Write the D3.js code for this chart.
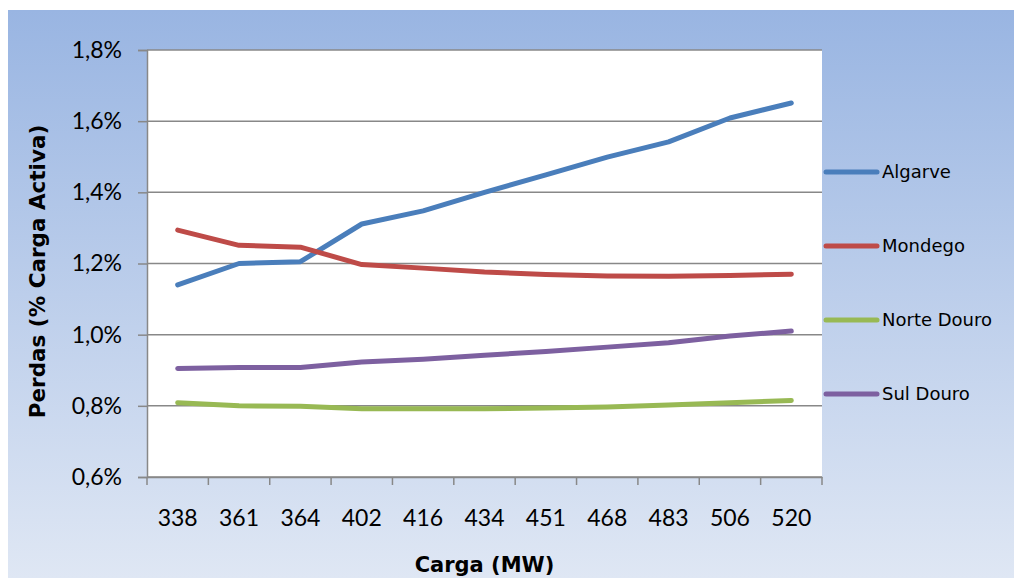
<!DOCTYPE html>
<html>
<head>
<meta charset="utf-8">
<script src="https://cdn.jsdelivr.net/npm/d3@7"></script>
<style>
  html, body { margin: 0; padding: 0; background: #fff; }
  svg { display: block; }
</style>
</head>
<body>
<svg id="chart" width="1014" height="578"></svg>
<script>
// Load categories (MW)
const categories = ["338", "361", "364", "402", "416", "434", "451", "468", "483", "506", "520"];

// Losses as % of active load, per region
const algarve     = [1.140, 1.200, 1.205, 1.311, 1.348, 1.400, 1.449, 1.499, 1.542, 1.609, 1.651];
const mondego     = [1.294, 1.251, 1.246, 1.197, 1.187, 1.176, 1.169, 1.165, 1.164, 1.166, 1.170];
const norteDouro  = [0.809, 0.800, 0.799, 0.792, 0.792, 0.792, 0.794, 0.797, 0.802, 0.809, 0.815];
const sulDouro    = [0.905, 0.908, 0.908, 0.923, 0.931, 0.942, 0.953, 0.965, 0.977, 0.996, 1.010];

const seriesNames  = ["Algarve", "Mondego", "Norte Douro", "Sul Douro"];
const seriesValues = [algarve, mondego, norteDouro, sulDouro];
const seriesColors = ["#4a7ebb", "#be4b48", "#98b954", "#7d60a0"];

const yTicks = [0.6, 0.8, 1.0, 1.2, 1.4, 1.6, 1.8];

const svg = d3.select("#chart");

// Background panel with vertical gradient
const defs = svg.append("defs");
const grad = defs.append("linearGradient")
  .attr("id", "bg").attr("x1", 0).attr("y1", 0).attr("x2", 0).attr("y2", 1);
grad.append("stop").attr("offset", "0%").attr("stop-color", "#99b5e2");
grad.append("stop").attr("offset", "100%").attr("stop-color", "#dfe7f4");

svg.append("rect")
  .attr("x", 8).attr("y", 10).attr("width", 1006).attr("height", 568)
  .attr("fill", "url(#bg)");

const plot = { left: 147, top: 50, right: 822, bottom: 477 };

const x = d3.scaleBand()
  .domain(categories)
  .range([plot.left, plot.right]);

const y = d3.scaleLinear()
  .domain([0.6, 1.8])
  .range([plot.bottom, plot.top]);

// Plot area
svg.append("rect")
  .attr("x", plot.left).attr("y", plot.top)
  .attr("width", plot.right - plot.left).attr("height", plot.bottom - plot.top)
  .attr("fill", "#ffffff");

// Horizontal gridlines
svg.append("g")
  .selectAll("line")
  .data(yTicks)
  .join("line")
  .attr("x1", plot.left).attr("x2", plot.right)
  .attr("y1", d => y(d)).attr("y2", d => y(d))
  .attr("stroke", "#888888").attr("stroke-width", 1.5);

// Y axis
const fmt = d => d.toFixed(1).replace(".", ",") + "%";
const yAxis = svg.append("g")
  .attr("transform", `translate(${plot.left},0)`)
  .call(d3.axisLeft(y).tickValues(yTicks).tickFormat(fmt).tickSize(9).tickPadding(16));
yAxis.select(".domain").attr("stroke", "#888888").attr("stroke-width", 1.5);
yAxis.selectAll(".tick line").attr("stroke", "#888888").attr("stroke-width", 1.5);
yAxis.selectAll(".tick text")
  .attr("font-family", "Lato, 'Open Sans', sans-serif")
  .attr("font-size", 23).attr("fill", "#000");

// X axis: ticks sit on category boundaries
const xAxis = svg.append("g")
  .attr("transform", `translate(0,${plot.bottom})`)
  .call(d3.axisBottom(x).tickSize(0).tickPadding(33));
xAxis.select(".domain").attr("stroke", "#888888").attr("stroke-width", 1.5);
xAxis.selectAll(".tick text")
  .attr("font-family", "Lato, 'Open Sans', sans-serif")
  .attr("font-size", 23).attr("fill", "#000");

const boundaries = categories.map(c => x(c)).concat([x(categories[categories.length - 1]) + x.bandwidth()]);
svg.append("g")
  .selectAll("line")
  .data(boundaries)
  .join("line")
  .attr("x1", d => d).attr("x2", d => d)
  .attr("y1", plot.bottom).attr("y2", plot.bottom + 8)
  .attr("stroke", "#888888").attr("stroke-width", 1.5);

// Series lines
const line = d3.line()
  .x((d, i) => x(categories[i]) + x.bandwidth() / 2)
  .y(d => y(d));

svg.append("g")
  .selectAll("path")
  .data(seriesValues)
  .join("path")
  .attr("d", d => line(d))
  .attr("fill", "none")
  .attr("stroke", (d, i) => seriesColors[i])
  .attr("stroke-width", 5)
  .attr("stroke-linecap", "round")
  .attr("stroke-linejoin", "round");

// Legend
const legendY = [172, 246, 320, 394];
const legend = svg.append("g")
  .selectAll("g")
  .data(seriesNames)
  .join("g")
  .attr("transform", (d, i) => `translate(0,${legendY[i]})`);
legend.append("line")
  .attr("x1", 826).attr("x2", 877)
  .attr("y1", 0).attr("y2", 0)
  .attr("stroke", (d, i) => seriesColors[i])
  .attr("stroke-width", 5)
  .attr("stroke-linecap", "round");
legend.append("text")
  .attr("x", 882).attr("y", 0).attr("dy", "0.35em")
  .attr("font-family", "'DejaVu Sans', sans-serif")
  .attr("font-size", 18)
  .attr("fill", "#000")
  .text(d => d);

// Axis titles
svg.append("text")
  .attr("x", (plot.left + plot.right) / 2).attr("y", 572)
  .attr("text-anchor", "middle")
  .attr("font-family", "'DejaVu Sans', sans-serif")
  .attr("font-weight", "bold").attr("font-size", 21)
  .attr("fill", "#000")
  .text("Carga (MW)");

svg.append("text")
  .attr("transform", `translate(45,${(plot.top + plot.bottom) / 2 + 8}) rotate(-90)`)
  .attr("text-anchor", "middle")
  .attr("font-family", "'DejaVu Sans', sans-serif")
  .attr("font-weight", "bold").attr("font-size", 21.5)
  .attr("fill", "#000")
  .text("Perdas (% Carga Activa)");
</script>
</body>
</html>
